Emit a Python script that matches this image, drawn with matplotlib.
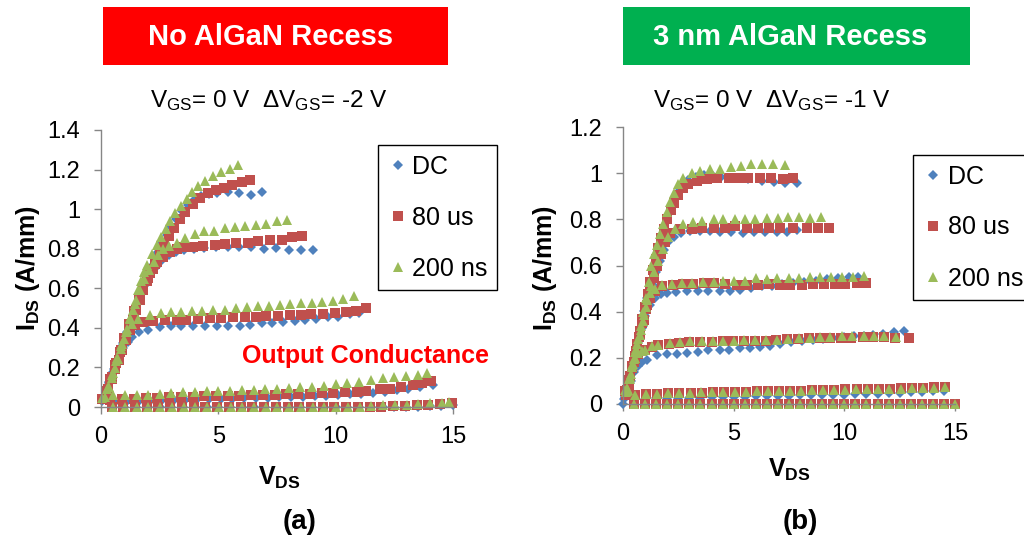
import matplotlib
matplotlib.use("Agg")
import matplotlib.pyplot as plt
from matplotlib.patches import Rectangle
from matplotlib.ticker import FuncFormatter

plt.rcParams['font.family'] = ['Liberation Sans', 'DejaVu Sans']
plt.rcParams['mathtext.fontset'] = 'custom'
plt.rcParams['mathtext.rm'] = 'Liberation Sans'
plt.rcParams['mathtext.it'] = 'Liberation Sans:italic'
plt.rcParams['mathtext.bf'] = 'Liberation Sans:bold'

series_names = ['DC', '80 us', '200 ns']
series_colors = ['#4F81BD', '#C0504D', '#9BBB59']
series_markers = ['D', 's', '^']
series_sizes = [5.5, 6.5, 7.5]

# ---------------- (a) No AlGaN Recess, VGS = 0 ... -8 V ----------------
a_dc_vds = [
    [0.05, 0.2, 0.35, 0.5, 0.65, 0.8, 0.95, 1.1, 1.25, 1.4, 1.55, 1.7, 1.85, 2.0, 2.2, 2.4, 2.6, 2.8, 3.0, 3.2, 3.45, 3.7, 3.95, 4.25, 4.6, 4.95, 5.4, 5.9, 6.4, 6.85],
    [0.1, 0.3, 0.5, 0.7, 0.9, 1.1, 1.3, 1.5, 1.7, 1.9, 2.1, 2.35, 2.6, 2.9, 3.2, 3.55, 3.95, 4.4, 4.92, 5.42, 5.9, 6.4, 6.93, 7.47, 8.0, 8.54, 9.04],
    [0.15, 0.35, 0.55, 0.75, 0.95, 1.16, 1.3, 1.6, 2.01, 2.51, 3.0, 3.43, 3.93, 4.43, 4.93, 5.43, 5.93, 6.36, 6.86, 7.3, 7.76, 8.26, 8.68, 9.18, 9.67, 10.1, 10.6, 11.0],
    [0.6, 1.1, 1.6, 2.1, 2.6, 3.1, 3.6, 4.1, 4.6, 5.1, 5.6, 6.1, 6.6, 7.1, 7.6, 8.1, 8.6, 9.1, 9.6, 10.1, 10.6, 11.1, 11.6, 12.1, 12.6, 13.1, 13.6, 14.16],
    [0.5, 1.0, 1.5, 2.0, 2.5, 3.0, 3.5, 4.0, 4.5, 5.0, 5.5, 6.0, 6.5, 7.0, 7.5, 8.0, 8.5, 9.0, 9.5, 10.0, 10.5, 11.0, 11.5, 12.0, 12.5, 13.0, 13.5, 14.0, 14.5, 15.0],
]
a_dc_ids = [
    [0.03, 0.08, 0.125, 0.175, 0.225, 0.275, 0.325, 0.375, 0.425, 0.47, 0.52, 0.57, 0.62, 0.665, 0.72, 0.78, 0.83, 0.87, 0.91, 0.95, 0.99, 1.02, 1.045, 1.065, 1.075, 1.08, 1.085, 1.08, 1.072, 1.086],
    [0.04, 0.1, 0.17, 0.24, 0.31, 0.38, 0.44, 0.51, 0.57, 0.62, 0.665, 0.71, 0.745, 0.77, 0.785, 0.795, 0.8, 0.805, 0.81, 0.81, 0.81, 0.81, 0.80, 0.804, 0.795, 0.795, 0.795],
    [0.05, 0.12, 0.19, 0.25, 0.3, 0.33, 0.356, 0.38, 0.39, 0.405, 0.41, 0.41, 0.41, 0.41, 0.41, 0.41, 0.41, 0.415, 0.423, 0.423, 0.432, 0.437, 0.44, 0.444, 0.454, 0.457, 0.47, 0.477],
    [0.027, 0.03, 0.03, 0.032, 0.033, 0.035, 0.036, 0.038, 0.039, 0.038, 0.042, 0.044, 0.045, 0.047, 0.049, 0.05, 0.053, 0.056, 0.058, 0.06, 0.064, 0.068, 0.073, 0.078, 0.085, 0.092, 0.1, 0.11],
    [0, 0, 0, 0, 0, 0, 0, 0, 0, 0, 0, 0, 0, 0, 0, 0, 0, 0, 0, 0, 0, 0, 0, 0, 0, 0, 0.002, 0.004, 0.006, 0.01],
]
a_80us_vds = [
    [0.15, 0.3, 0.45, 0.6, 0.75, 0.9, 1.05, 1.2, 1.35, 1.5, 1.65, 1.8, 1.95, 2.1, 2.3, 2.5, 2.7, 2.9, 3.1, 3.35, 3.6, 3.9, 4.2, 4.55, 4.9, 5.25, 5.6, 6.0, 6.37],
    [0.2, 0.4, 0.6, 0.8, 1.0, 1.2, 1.4, 1.6, 1.8, 2.0, 2.2, 2.4, 2.65, 2.95, 3.22, 3.53, 3.93, 4.35, 4.85, 5.3, 5.77, 6.27, 6.7, 7.2, 7.7, 8.14, 8.56],
    [0.25, 0.45, 0.65, 0.85, 1.05, 1.25, 1.46, 1.8, 2.23, 2.72, 3.22, 3.64, 4.14, 4.63, 5.13, 5.63, 6.13, 6.6, 7.05, 7.55, 8.04, 8.54, 8.96, 9.46, 9.96, 10.43, 10.88, 11.3],
    [0.05, 0.4, 0.9, 1.4, 1.9, 2.4, 2.9, 3.4, 3.9, 4.4, 4.9, 5.4, 5.9, 6.4, 6.9, 7.4, 7.9, 8.4, 8.9, 9.4, 9.9, 10.4, 10.9, 11.3, 11.9, 12.3, 12.8, 13.3, 13.7, 14.05],
    [0.45, 0.95, 1.45, 1.95, 2.45, 2.95, 3.45, 3.95, 4.45, 4.95, 5.45, 5.95, 6.45, 6.95, 7.45, 7.95, 8.45, 8.95, 9.45, 9.95, 10.45, 10.95, 11.45, 11.95, 12.45, 12.95, 13.45, 13.95, 14.45, 14.95],
]
a_80us_ids = [
    [0.04, 0.09, 0.14, 0.19, 0.24, 0.29, 0.34, 0.39, 0.44, 0.49, 0.54, 0.59, 0.635, 0.675, 0.725, 0.775, 0.82, 0.865, 0.905, 0.95, 0.985, 1.025, 1.055, 1.08, 1.095, 1.108, 1.123, 1.136, 1.148],
    [0.07, 0.14, 0.21, 0.28, 0.35, 0.42, 0.485, 0.55, 0.6, 0.65, 0.695, 0.735, 0.76, 0.785, 0.80, 0.81, 0.81, 0.815, 0.82, 0.825, 0.83, 0.83, 0.84, 0.845, 0.845, 0.857, 0.866],
    [0.08, 0.15, 0.22, 0.29, 0.345, 0.39, 0.415, 0.43, 0.435, 0.44, 0.44, 0.442, 0.447, 0.449, 0.449, 0.454, 0.457, 0.457, 0.461, 0.462, 0.464, 0.466, 0.47, 0.47, 0.474, 0.482, 0.487, 0.499],
    [0.04, 0.036, 0.04, 0.042, 0.045, 0.047, 0.05, 0.05, 0.052, 0.054, 0.055, 0.057, 0.058, 0.06, 0.06, 0.062, 0.064, 0.066, 0.068, 0.07, 0.072, 0.075, 0.078, 0.08, 0.09, 0.09, 0.1, 0.11, 0.12, 0.13],
    [0, 0, 0, 0, 0, 0, 0, 0, 0, 0, 0, 0, 0, 0, 0, 0, 0, 0, 0, 0, 0, 0, 0, 0, 0.004, 0.006, 0.008, 0.012, 0.016, 0.02],
]
a_200ns_vds = [
    [0.17, 0.32, 0.45, 0.6, 0.72, 0.85, 0.99, 1.12, 1.24, 1.37, 1.48, 1.59, 1.7, 1.82, 1.97, 2.17, 2.37, 2.57, 2.76, 2.95, 3.15, 3.4, 3.65, 3.89, 4.14, 4.43, 4.78, 5.12, 5.49, 5.84],
    [0.25, 0.45, 0.65, 0.85, 1.05, 1.25, 1.45, 1.65, 1.85, 2.05, 2.25, 2.43, 2.65, 2.9, 3.22, 3.6, 4.0, 4.38, 4.82, 5.27, 5.7, 6.15, 6.6, 7.05, 7.5, 7.93],
    [0.3, 0.5, 0.7, 0.9, 1.1, 1.3, 1.59, 2.09, 2.54, 3.0, 3.43, 3.86, 4.32, 4.78, 5.28, 5.77, 6.23, 6.7, 7.16, 7.62, 8.07, 8.54, 9.0, 9.43, 9.9, 10.3, 10.77],
    [0.03, 0.53, 1.02, 1.52, 2.0, 2.5, 3.0, 3.5, 4.0, 4.5, 5.0, 5.5, 6.0, 6.5, 7.0, 7.5, 8.0, 8.5, 9.0, 9.5, 10.0, 10.5, 11.0, 11.5, 12.0, 12.5, 13.0, 13.5, 13.9],
    [0.52, 1.02, 1.52, 2.02, 2.52, 3.02, 3.52, 4.02, 4.52, 5.02, 5.52, 6.02, 6.52, 7.02, 7.52, 8.02, 8.52, 9.02, 9.52, 10.02, 10.52, 11.02, 11.52, 12.02, 12.52, 13.02, 13.52, 14.02, 14.52, 14.85],
]
a_200ns_ids = [
    [0.05, 0.1, 0.145, 0.195, 0.245, 0.295, 0.345, 0.395, 0.445, 0.49, 0.54, 0.59, 0.635, 0.68, 0.72, 0.775, 0.82, 0.86, 0.9, 0.94, 0.98, 1.015, 1.05, 1.085, 1.115, 1.14, 1.17, 1.19, 1.205, 1.225],
    [0.09, 0.16, 0.235, 0.31, 0.38, 0.45, 0.52, 0.59, 0.645, 0.69, 0.735, 0.77, 0.80, 0.815, 0.83, 0.855, 0.875, 0.89, 0.89, 0.905, 0.91, 0.916, 0.92, 0.927, 0.94, 0.947],
    [0.1, 0.17, 0.25, 0.32, 0.38, 0.42, 0.444, 0.466, 0.475, 0.48, 0.482, 0.485, 0.487, 0.49, 0.492, 0.5, 0.504, 0.508, 0.51, 0.516, 0.52, 0.525, 0.528, 0.533, 0.538, 0.545, 0.562],
    [0.045, 0.06, 0.063, 0.063, 0.063, 0.067, 0.07, 0.074, 0.078, 0.08, 0.083, 0.082, 0.085, 0.088, 0.09, 0.09, 0.095, 0.1, 0.1, 0.108, 0.115, 0.12, 0.128, 0.138, 0.145, 0.15, 0.157, 0.162, 0.17],
    [0, 0, 0, 0, 0, 0, 0, 0, 0, 0, 0, 0, 0, 0, 0, 0, 0, 0, 0, 0, 0, 0, 0.005, 0.008, 0.01, 0.012, 0.015, 0.018, 0.02, 0.025],
]

# ---------------- (b) 3 nm AlGaN Recess, VGS = 0 ... -5 V ----------------
b_dc_vds = [
    [0.1, 0.22, 0.35, 0.48, 0.6, 0.72, 0.85, 0.97, 1.1, 1.22, 1.35, 1.47, 1.6, 1.73, 1.87, 2.0, 2.15, 2.3, 2.5, 2.7, 2.95, 3.3, 3.65, 4.0, 4.45, 4.9, 5.25, 5.67, 6.27, 6.8, 7.33, 7.86],
    [0.15, 0.3, 0.45, 0.6, 0.75, 0.9, 1.05, 1.2, 1.35, 1.5, 1.67, 1.85, 2.05, 2.3, 2.6, 3.03, 3.48, 3.94, 4.39, 4.9, 5.4, 5.9, 6.42, 6.95, 7.4, 7.88],
    [0.1, 0.25, 0.4, 0.55, 0.7, 0.85, 1.0, 1.2, 1.45, 1.7, 1.98, 2.4, 2.88, 3.4, 3.86, 4.36, 4.84, 5.3, 5.77, 6.27, 6.71, 7.2, 7.7, 8.2, 8.7, 9.2, 9.7, 10.2, 10.6],
    [0.05, 0.2, 0.35, 0.5, 0.7, 0.85, 1.07, 1.52, 2.0, 2.46, 2.9, 3.41, 3.86, 4.36, 4.81, 5.27, 5.75, 6.2, 6.66, 7.1, 7.59, 8.08, 8.57, 9.04, 9.5, 9.97, 10.42, 10.87, 11.3, 11.75, 12.23, 12.68],
    [0.5, 1.0, 1.5, 2.0, 2.5, 3.0, 3.5, 4.0, 4.5, 5.0, 5.5, 6.0, 6.5, 7.0, 7.5, 8.0, 8.5, 9.0, 9.5, 10.0, 10.5, 11.0, 11.5, 12.0, 12.5, 13.0, 13.5, 14.0, 14.5],
    [0.0, 0.5, 1.0, 1.5, 2.0, 2.5, 3.0, 3.5, 4.0, 4.5, 5.0, 5.5, 6.0, 6.5, 7.0, 7.5, 8.0, 8.5, 9.0, 9.5, 10.0, 10.5, 11.0, 11.5, 12.0, 12.5, 13.0, 13.5, 14.0, 14.5, 15.0],
]
b_dc_ids = [
    [0.03, 0.08, 0.135, 0.19, 0.245, 0.3, 0.35, 0.405, 0.46, 0.515, 0.565, 0.62, 0.67, 0.72, 0.77, 0.81, 0.85, 0.885, 0.92, 0.95, 0.97, 0.985, 0.99, 0.99, 0.985, 0.98, 0.978, 0.974, 0.966, 0.962, 0.957, 0.957],
    [0.04, 0.1, 0.16, 0.22, 0.28, 0.34, 0.4, 0.46, 0.515, 0.57, 0.62, 0.665, 0.7, 0.725, 0.74, 0.75, 0.75, 0.75, 0.745, 0.745, 0.742, 0.745, 0.745, 0.745, 0.745, 0.754],
    [0.03, 0.09, 0.15, 0.21, 0.27, 0.33, 0.38, 0.43, 0.46, 0.475, 0.48, 0.484, 0.488, 0.488, 0.488, 0.49, 0.49, 0.495, 0.503, 0.51, 0.513, 0.52, 0.525, 0.53, 0.535, 0.54, 0.545, 0.55, 0.55],
    [0.02, 0.06, 0.1, 0.14, 0.165, 0.18, 0.19, 0.213, 0.217, 0.217, 0.222, 0.227, 0.233, 0.233, 0.233, 0.241, 0.241, 0.249, 0.252, 0.261, 0.267, 0.271, 0.278, 0.281, 0.286, 0.29, 0.293, 0.296, 0.3, 0.304, 0.31, 0.316],
    [0.02, 0.022, 0.024, 0.025, 0.026, 0.027, 0.028, 0.029, 0.03, 0.031, 0.032, 0.033, 0.034, 0.035, 0.036, 0.037, 0.038, 0.039, 0.04, 0.041, 0.042, 0.044, 0.045, 0.047, 0.048, 0.05, 0.052, 0.055, 0.058],
    [0, 0, 0, 0, 0, 0, 0, 0, 0, 0, 0, 0, 0, 0, 0, 0, 0, 0, 0, 0, 0, 0, 0, 0, 0, 0, 0, 0, 0, 0, 0],
]
b_80us_vds = [
    [0.15, 0.28, 0.4, 0.52, 0.64, 0.76, 0.88, 1.0, 1.12, 1.24, 1.36, 1.48, 1.6, 1.72, 1.85, 2.0, 2.15, 2.3, 2.5, 2.7, 2.95, 3.33, 3.78, 4.24, 4.77, 5.22, 5.67, 6.2, 6.68, 7.22, 7.7],
    [0.18, 0.33, 0.48, 0.63, 0.78, 0.93, 1.08, 1.23, 1.38, 1.55, 1.72, 1.9, 2.12, 2.58, 3.1, 3.56, 4.09, 4.6, 5.07, 5.6, 6.1, 6.6, 7.1, 7.7, 8.3, 8.8, 9.3],
    [0.12, 0.27, 0.42, 0.57, 0.72, 0.87, 1.02, 1.2, 1.45, 1.75, 2.28, 2.73, 3.18, 3.67, 4.13, 4.6, 5.14, 5.6, 6.1, 6.58, 7.1, 7.55, 8.08, 8.6, 9.06, 9.59, 10.04, 10.57, 11.0],
    [0.1, 0.25, 0.4, 0.55, 0.7, 0.85, 1.0, 1.3, 1.6, 2.1, 2.55, 3.0, 3.5, 4.0, 4.5, 4.95, 5.45, 5.95, 6.45, 6.9, 7.4, 7.9, 8.4, 8.9, 9.35, 9.85, 10.3, 10.85, 11.3, 11.8, 12.3, 12.9],
    [0.25, 0.55, 1.05, 1.55, 2.05, 2.55, 3.05, 3.55, 4.05, 4.55, 5.05, 5.55, 6.05, 6.55, 7.05, 7.55, 8.05, 8.55, 9.05, 9.55, 10.05, 10.55, 11.05, 11.55, 12.05, 12.55, 13.05, 13.55, 14.05, 14.55],
    [0.5, 1.0, 1.5, 2.0, 2.5, 3.0, 3.5, 4.0, 4.5, 5.0, 5.5, 6.0, 6.5, 7.0, 7.5, 8.0, 8.5, 9.0, 9.5, 10.0, 10.5, 11.0, 11.5, 12.0, 12.5, 13.0, 13.5, 14.0, 14.5, 15.0],
]
b_80us_ids = [
    [0.045, 0.1, 0.155, 0.21, 0.26, 0.315, 0.37, 0.42, 0.475, 0.53, 0.58, 0.63, 0.675, 0.72, 0.76, 0.8, 0.84, 0.87, 0.905, 0.935, 0.955, 0.966, 0.974, 0.981, 0.981, 0.981, 0.981, 0.978, 0.977, 0.974, 0.978],
    [0.06, 0.12, 0.18, 0.245, 0.305, 0.365, 0.43, 0.49, 0.545, 0.6, 0.65, 0.7, 0.74, 0.756, 0.759, 0.763, 0.763, 0.763, 0.77, 0.763, 0.763, 0.763, 0.763, 0.763, 0.763, 0.763, 0.763],
    [0.04, 0.1, 0.165, 0.23, 0.29, 0.35, 0.41, 0.46, 0.49, 0.51, 0.517, 0.52, 0.52, 0.523, 0.523, 0.52, 0.517, 0.517, 0.517, 0.52, 0.517, 0.517, 0.517, 0.52, 0.52, 0.52, 0.52, 0.523, 0.523],
    [0.055, 0.105, 0.155, 0.195, 0.215, 0.23, 0.235, 0.248, 0.255, 0.262, 0.265, 0.268, 0.27, 0.27, 0.272, 0.272, 0.275, 0.275, 0.275, 0.278, 0.28, 0.282, 0.285, 0.285, 0.288, 0.288, 0.288, 0.29, 0.29, 0.29, 0.288, 0.288],
    [0.065, 0.04, 0.043, 0.044, 0.046, 0.047, 0.047, 0.048, 0.05, 0.05, 0.052, 0.053, 0.055, 0.055, 0.057, 0.058, 0.058, 0.06, 0.06, 0.062, 0.063, 0.063, 0.065, 0.066, 0.066, 0.068, 0.068, 0.07, 0.072, 0.072],
    [0, 0, 0, 0, 0, 0, 0, 0, 0, 0, 0, 0, 0, 0, 0, 0, 0, 0, 0, 0, 0, 0, 0, 0, 0, 0, 0, 0, 0, 0],
]
b_200ns_vds = [
    [0.17, 0.3, 0.42, 0.55, 0.67, 0.8, 0.92, 1.04, 1.16, 1.28, 1.4, 1.52, 1.65, 1.8, 1.98, 2.13, 2.3, 2.5, 2.73, 3.1, 3.48, 3.93, 4.39, 4.89, 5.34, 5.79, 6.27, 6.76, 7.3],
    [0.2, 0.35, 0.5, 0.65, 0.8, 0.95, 1.1, 1.25, 1.42, 1.6, 1.8, 2.05, 2.35, 2.73, 3.18, 3.59, 4.09, 4.54, 5.04, 5.52, 5.97, 6.5, 7.0, 7.45, 7.96, 8.46, 8.96],
    [0.15, 0.3, 0.45, 0.6, 0.75, 0.9, 1.05, 1.22, 1.45, 1.75, 2.2, 2.65, 3.1, 3.63, 4.09, 4.54, 5.0, 5.5, 6.0, 6.5, 6.98, 7.48, 7.96, 8.43, 8.91, 9.4, 9.89, 10.39, 10.87],
    [0.1, 0.25, 0.4, 0.54, 0.7, 0.85, 0.99, 1.3, 1.6, 2.13, 2.58, 3.03, 3.56, 4.05, 4.54, 5.0, 5.48, 5.97, 6.47, 6.95, 7.44, 7.93, 8.43, 8.91, 9.36, 9.89, 10.34, 10.87, 11.32, 11.8, 12.35],
    [0.24, 0.54, 1.04, 1.54, 2.04, 2.54, 3.04, 3.54, 4.04, 4.54, 5.04, 5.54, 6.04, 6.54, 7.04, 7.54, 8.04, 8.54, 9.04, 9.54, 10.04, 10.54, 11.04, 11.54, 12.04, 12.54, 13.04, 13.54, 14.04, 14.54],
    [0.5, 1.0, 1.5, 2.0, 2.5, 3.0, 3.5, 4.0, 4.5, 5.0, 5.5, 6.0, 6.5, 7.0, 7.5, 8.0, 8.5, 9.0, 9.5, 10.0, 10.5, 11.0, 11.5, 12.0, 12.5, 13.0, 13.5, 14.0, 14.5, 15.0],
]
b_200ns_ids = [
    [0.055, 0.115, 0.17, 0.225, 0.28, 0.34, 0.40, 0.46, 0.53, 0.6, 0.65, 0.69, 0.735, 0.78, 0.83, 0.875, 0.915, 0.952, 0.98, 1.0, 1.01, 1.02, 1.02, 1.025, 1.032, 1.04, 1.04, 1.04, 1.035],
    [0.07, 0.13, 0.195, 0.26, 0.32, 0.385, 0.45, 0.51, 0.57, 0.62, 0.67, 0.725, 0.76, 0.78, 0.79, 0.792, 0.80, 0.80, 0.803, 0.803, 0.803, 0.807, 0.807, 0.81, 0.812, 0.807, 0.812],
    [0.05, 0.11, 0.175, 0.24, 0.3, 0.36, 0.42, 0.48, 0.5, 0.516, 0.52, 0.524, 0.524, 0.53, 0.53, 0.533, 0.533, 0.533, 0.545, 0.54, 0.545, 0.548, 0.548, 0.551, 0.551, 0.551, 0.551, 0.551, 0.555],
    [0.06, 0.11, 0.16, 0.2, 0.22, 0.23, 0.235, 0.25, 0.256, 0.264, 0.267, 0.271, 0.275, 0.275, 0.275, 0.275, 0.278, 0.278, 0.278, 0.278, 0.281, 0.286, 0.286, 0.29, 0.29, 0.293, 0.293, 0.293, 0.293, 0.293, 0.29],
    [0.06, 0.04, 0.044, 0.045, 0.046, 0.047, 0.048, 0.05, 0.05, 0.051, 0.052, 0.054, 0.055, 0.056, 0.056, 0.058, 0.058, 0.06, 0.06, 0.061, 0.062, 0.063, 0.064, 0.065, 0.066, 0.066, 0.068, 0.069, 0.07, 0.072],
    [0, 0, 0, 0, 0, 0, 0, 0, 0, 0, 0, 0, 0, 0, 0, 0, 0, 0, 0, 0, 0, 0, 0, 0, 0, 0, 0, 0, 0, 0],
]

a_yticks = [0, 0.2, 0.4, 0.6, 0.8, 1.0, 1.2, 1.4]
b_yticks = [0, 0.2, 0.4, 0.6, 0.8, 1.0, 1.2]
xticks = [0, 5, 10, 15]

axis_gray = '#868686'


def draw_panel(ax, data, yticks):
    handles = []
    for k, (vds_sets, ids_sets) in enumerate(data):
        for i, (vx, iy) in enumerate(zip(vds_sets, ids_sets)):
            h, = ax.plot(vx, iy, linestyle='none', marker=series_markers[k],
                         color=series_colors[k], ms=series_sizes[k],
                         markeredgewidth=0, clip_on=False,
                         label=series_names[k] if i == 0 else None)
            if i == 0:
                handles.append(h)
    ax.set_xlim(0, 15)
    ax.set_ylim(0, yticks[-1])
    ax.set_xticks(xticks)
    ax.set_yticks(yticks)
    ax.yaxis.set_major_formatter(FuncFormatter(lambda v, p: '%g' % v))
    for s in ['top', 'right']:
        ax.spines[s].set_visible(False)
    for s in ['left', 'bottom']:
        ax.spines[s].set_color(axis_gray)
        ax.spines[s].set_linewidth(1.0)
    ax.tick_params(axis='both', colors=axis_gray, labelcolor='black',
                   labelsize=17, length=5, width=1)
    ax.tick_params(axis='y', pad=10)
    ax.tick_params(axis='x', pad=9)
    return handles


fig = plt.figure(figsize=(10.24, 5.58), dpi=100)

ax_a = fig.add_axes([101 / 1024, 1 - 407 / 558, 352 / 1024, 277 / 558])
ax_b = fig.add_axes([623 / 1024, 1 - 404 / 558, 332 / 1024, 277 / 558])

h_a = draw_panel(ax_a, [(a_dc_vds, a_dc_ids), (a_80us_vds, a_80us_ids),
                        (a_200ns_vds, a_200ns_ids)], a_yticks)
h_b = draw_panel(ax_b, [(b_dc_vds, b_dc_ids), (b_80us_vds, b_80us_ids),
                        (b_200ns_vds, b_200ns_ids)], b_yticks)

for ax, h, anchor in [(ax_a, h_a, (378 / 1024, 1 - 145 / 558)),
                      (ax_b, h_b, (913 / 1024, 1 - 155 / 558))]:
    leg = ax.legend(handles=h, loc='upper left', bbox_to_anchor=anchor,
                    bbox_transform=fig.transFigure, fontsize=18,
                    frameon=True, fancybox=False, framealpha=1,
                    edgecolor='black', labelspacing=1.08, borderpad=0.38,
                    handlelength=0.8, handletextpad=0.2, borderaxespad=0,
                    markerscale=1.0)
    leg.get_frame().set_linewidth(1.0)

# title boxes
fig.add_artist(Rectangle((103 / 1024, 1 - 65 / 558), 345 / 1024, 58 / 558,
                         transform=fig.transFigure, facecolor='#FF0000',
                         edgecolor='none'))
fig.add_artist(Rectangle((623 / 1024, 1 - 65 / 558), 347 / 1024, 58 / 558,
                         transform=fig.transFigure, facecolor='#00B050',
                         edgecolor='none'))
fig.text(271 / 1024, 1 - 37 / 558, 'No AlGaN Recess', color='white',
         fontsize=21, fontweight='bold', ha='center', va='center')
fig.text(790 / 1024, 1 - 37 / 558, '3 nm AlGaN Recess', color='white',
         fontsize=21, fontweight='bold', ha='center', va='center')

fig.text(269 / 1024, 1 - 101 / 558,
         r'V$_{\mathrm{GS}}$= 0 V  $\Delta$V$_{\mathrm{GS}}$= -2 V',
         fontsize=17.5, ha='center', va='center')
fig.text(772 / 1024, 1 - 101 / 558,
         r'V$_{\mathrm{GS}}$= 0 V  $\Delta$V$_{\mathrm{GS}}$= -1 V',
         fontsize=17.5, ha='center', va='center')

# axis labels
fig.text(28 / 1024, 1 - 268 / 558, r'I$_{\mathbf{DS}}$ (A/mm)', rotation=90,
         fontsize=18, fontweight='bold', ha='center', va='center')
fig.text(545 / 1024, 1 - 268 / 558, r'I$_{\mathbf{DS}}$ (A/mm)', rotation=90,
         fontsize=18, fontweight='bold', ha='center', va='center')
fig.text(279 / 1024, 1 - 478 / 558, r'V$_{\mathbf{DS}}$', fontsize=18,
         fontweight='bold', ha='center', va='center')
fig.text(789 / 1024, 1 - 470 / 558, r'V$_{\mathbf{DS}}$', fontsize=18,
         fontweight='bold', ha='center', va='center')

fig.text(300 / 1024, 1 - 522 / 558, '(a)', fontsize=20, fontweight='bold',
         ha='center', va='center')
fig.text(800 / 1024, 1 - 522 / 558, '(b)', fontsize=20, fontweight='bold',
         ha='center', va='center')

fig.text(365 / 1024, 1 - 356 / 558, 'Output Conductance', color='#FF0000',
         fontsize=18, fontweight='bold', ha='center', va='center')

fig.savefig('out.png', dpi=100)
